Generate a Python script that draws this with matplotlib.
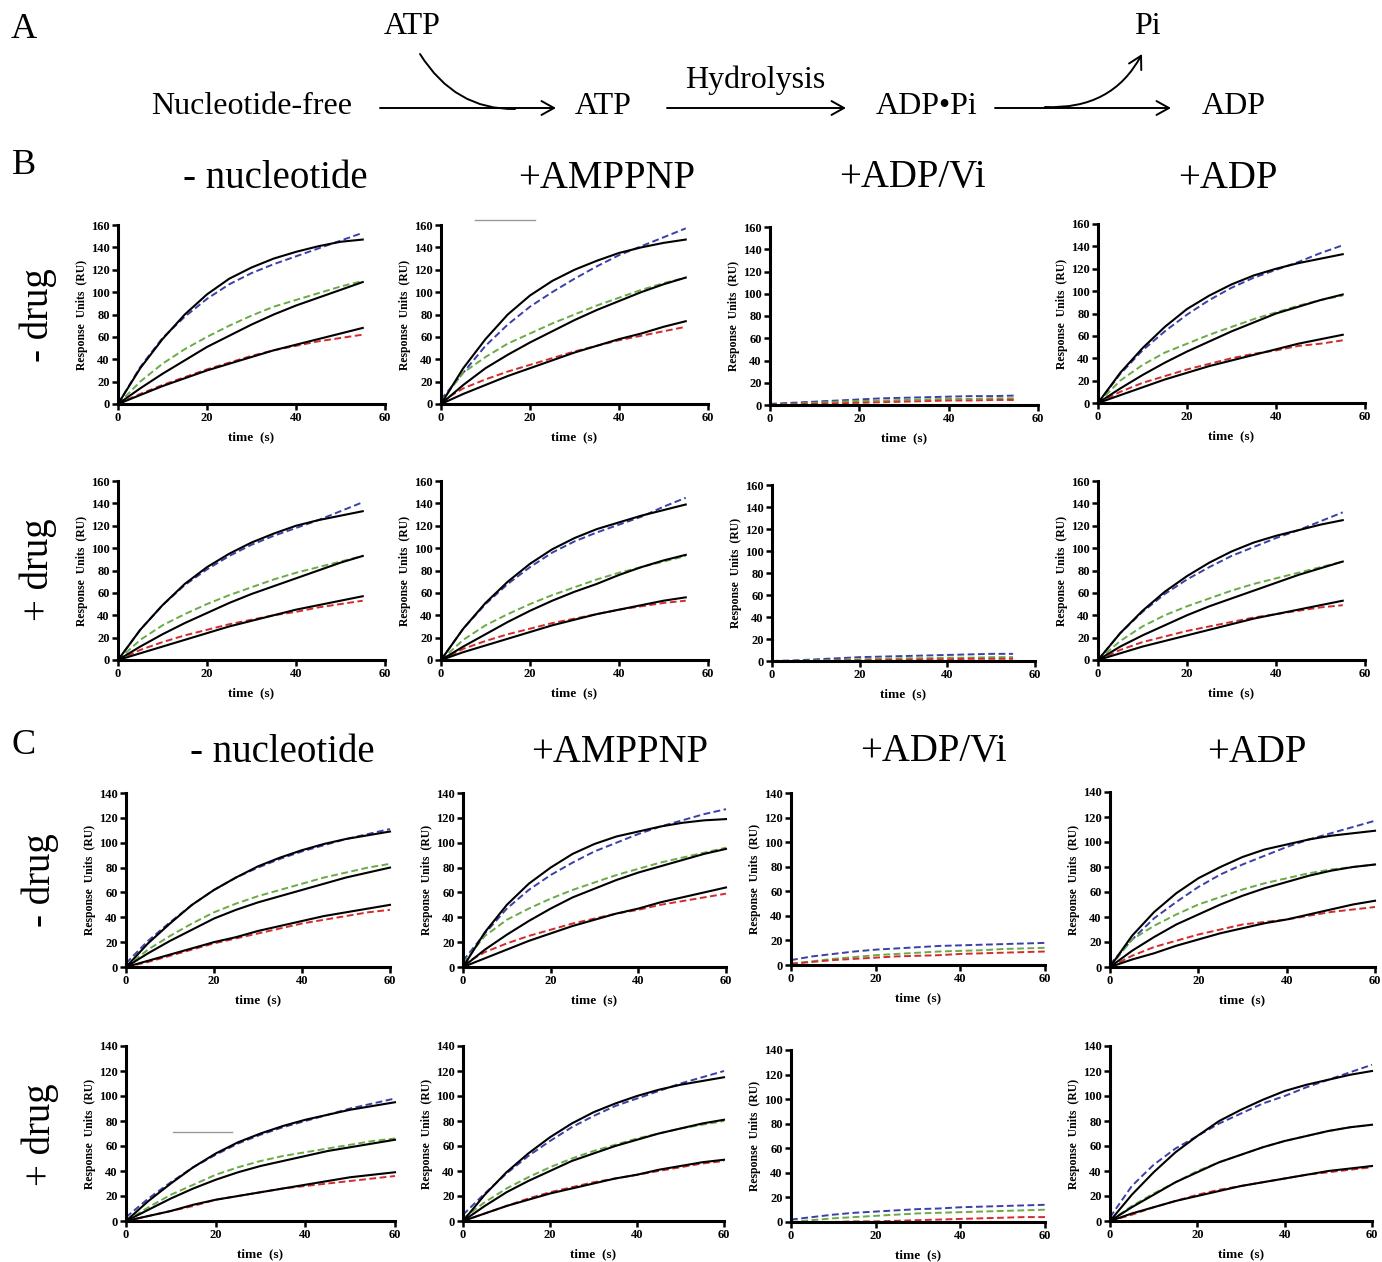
import numpy as np
import matplotlib.pyplot as plt
from matplotlib.path import Path
from matplotlib.patches import FancyArrowPatch

plt.rcParams['font.family'] = ['Liberation Serif', 'DejaVu Serif']

W, H = 1382, 1262

# time points (s)
t_B = [0, 5, 10, 15, 20, 25, 30, 35, 40, 45, 50, 55]
t_C = [0, 5, 10, 15, 20, 25, 30, 35, 40, 45, 50, 55, 60]

# each panel: blue, green, red (data, dashed) then fits high, mid, low (black)
# section B
B_m_free = [[0, 33, 59, 78, 94, 107, 117, 125, 132, 139, 146, 153],
            [0, 20, 36, 49, 60, 70, 79, 87, 93, 99, 105, 110],
            [0, 9, 17, 24, 31, 37, 43, 48, 52, 56, 59, 62],
            [0, 32, 58, 80, 98, 112, 122, 130, 136, 141, 145, 147],
            [0, 14, 27, 39, 51, 61, 71, 80, 88, 95, 102, 109],
            [0, 8, 16, 23, 30, 36, 42, 48, 53, 58, 63, 68]]
B_m_amppnp = [[4, 28, 52, 71, 87, 100, 112, 123, 133, 141, 149, 157],
              [2, 28, 42, 54, 63, 72, 80, 88, 95, 102, 108, 113],
              [2, 14, 22, 29, 35, 41, 47, 52, 57, 61, 65, 69],
              [0, 32, 58, 80, 97, 110, 120, 128, 135, 140, 144, 147],
              [0, 17, 32, 44, 55, 65, 75, 84, 92, 100, 107, 113],
              [0, 9, 17, 25, 32, 39, 46, 52, 58, 63, 69, 74]]
B_m_adpvi = [[1, 2, 3, 4, 5, 6, 6.5, 7, 7.5, 8, 8, 8.5],
             [0, 1, 2, 3, 3.5, 4, 4.5, 5, 5.5, 5.5, 6, 6],
             [0, 0.5, 1, 1.5, 2, 2.5, 3, 3.5, 4, 4, 4.5, 4.5]]
B_m_adp = [[0, 26, 47, 64, 79, 92, 103, 112, 119, 126, 134, 141],
           [0, 20, 34, 45, 53, 61, 68, 75, 81, 87, 92, 96],
           [0, 10, 18, 24, 30, 35, 40, 44, 47, 51, 53, 56],
           [0, 27, 49, 68, 84, 96, 106, 114, 120, 125, 129, 133],
           [0, 13, 25, 36, 46, 55, 64, 72, 80, 86, 92, 97],
           [0, 7, 14, 21, 27, 33, 38, 43, 48, 53, 57, 61]]
B_p_free = [[0, 27, 49, 67, 81, 93, 103, 111, 118, 125, 133, 141],
            [0, 18, 31, 41, 50, 58, 65, 72, 78, 83, 88, 93],
            [0, 9, 16, 22, 27, 32, 36, 40, 43, 47, 50, 53],
            [0, 27, 49, 68, 83, 95, 105, 113, 120, 125, 129, 133],
            [0, 12, 23, 33, 42, 51, 59, 66, 73, 80, 87, 93],
            [0, 6, 12, 18, 24, 30, 35, 40, 45, 49, 53, 57]]
B_p_amppnp = [[0, 28, 50, 68, 83, 96, 106, 114, 121, 128, 137, 145],
              [0, 18, 31, 41, 50, 58, 65, 72, 78, 83, 88, 93],
              [0, 10, 17, 23, 28, 33, 37, 41, 45, 48, 51, 53],
              [0, 28, 51, 70, 86, 99, 109, 117, 123, 129, 134, 139],
              [0, 12, 23, 34, 44, 53, 61, 68, 76, 83, 89, 94],
              [0, 7, 13, 19, 25, 31, 36, 41, 45, 49, 53, 56]]
B_p_adpvi = [[0, 0.5, 1.5, 2.5, 3.5, 4, 4.5, 5, 5.5, 6, 6.5, 6.5],
             [0, 0, 0.5, 1, 1.5, 2, 2.5, 2.5, 3, 3, 3.5, 3.5],
             [0, 0, 0, 0.5, 0.5, 1, 1, 1.5, 1.5, 2, 2, 2]]
B_p_adp = [[0, 24, 43, 59, 72, 83, 93, 101, 109, 116, 124, 132],
           [0, 17, 30, 40, 48, 55, 62, 68, 73, 78, 83, 88],
           [0, 9, 16, 21, 26, 30, 34, 38, 41, 44, 47, 49],
           [0, 24, 44, 61, 75, 87, 97, 105, 111, 116, 121, 125],
           [0, 12, 22, 31, 40, 48, 55, 62, 69, 76, 82, 88],
           [0, 6, 12, 17, 22, 27, 32, 37, 41, 45, 49, 53]]

# section C
C_m_free = [[3, 21, 36, 50, 62, 72, 80, 87, 93, 98, 103, 107, 111],
            [0, 14, 25, 35, 44, 51, 57, 62, 67, 72, 76, 80, 83],
            [0, 4, 9, 14, 19, 23, 27, 31, 35, 38, 41, 44, 46],
            [0, 19, 35, 50, 62, 72, 81, 88, 94, 99, 103, 106, 109],
            [0, 11, 21, 30, 39, 46, 52, 57, 62, 67, 72, 76, 80],
            [0, 5, 10, 15, 20, 24, 29, 33, 37, 41, 44, 47, 50]]
C_m_amppnp = [[5, 27, 47, 62, 74, 84, 93, 100, 107, 113, 118, 123, 127],
              [3, 25, 38, 47, 55, 62, 68, 74, 79, 84, 88, 92, 96],
              [2, 12, 19, 25, 30, 35, 39, 43, 46, 50, 53, 56, 59],
              [0, 28, 50, 67, 80, 91, 99, 105, 109, 113, 116, 118, 119],
              [0, 14, 26, 37, 47, 56, 63, 70, 76, 81, 86, 91, 95],
              [0, 7, 14, 21, 27, 33, 38, 43, 47, 52, 56, 60, 64]]
C_m_adpvi = [[4, 7, 9, 11, 12.5, 13.5, 14.5, 15.5, 16, 16.5, 17, 17.5, 18],
             [1, 3, 5, 6.5, 8, 9, 10, 11, 11.5, 12, 13, 13.5, 14],
             [1, 2.5, 4, 5, 6, 7, 7.5, 8, 9, 9.5, 10, 10.5, 11]]
C_m_adp = [[2, 22, 39, 52, 64, 74, 82, 89, 96, 102, 107, 112, 117],
           [0, 22, 33, 42, 50, 56, 62, 67, 71, 75, 78, 80, 82],
           [0, 9, 16, 21, 26, 30, 34, 36, 38, 41, 44, 46, 48],
           [0, 25, 44, 59, 71, 80, 88, 94, 98, 102, 105, 107, 109],
           [0, 13, 24, 34, 42, 50, 57, 63, 68, 73, 77, 80, 82],
           [0, 6, 11, 17, 22, 27, 31, 35, 38, 42, 46, 50, 53]]
C_p_free = [[3, 18, 31, 43, 53, 62, 69, 75, 80, 85, 90, 94, 98],
            [0, 11, 21, 29, 37, 43, 48, 52, 55, 58, 61, 64, 66],
            [0, 4, 8, 12, 17, 20, 23, 26, 28, 30, 32, 34, 36],
            [0, 16, 30, 43, 54, 63, 70, 76, 81, 85, 89, 92, 95],
            [0, 9, 18, 26, 33, 39, 44, 48, 52, 56, 59, 62, 65],
            [0, 4, 8, 13, 17, 20, 23, 26, 29, 32, 35, 37, 39]]
C_p_amppnp = [[5, 22, 38, 52, 64, 75, 84, 92, 98, 104, 110, 115, 120],
              [2, 15, 26, 35, 43, 50, 56, 61, 66, 70, 74, 77, 80],
              [0, 6, 12, 18, 23, 27, 31, 34, 37, 40, 43, 46, 48],
              [0, 21, 39, 54, 67, 78, 87, 94, 100, 105, 109, 112, 115],
              [0, 12, 23, 32, 40, 48, 54, 60, 65, 70, 74, 78, 81],
              [0, 6, 12, 17, 22, 26, 30, 34, 37, 41, 44, 47, 49]]
C_p_adpvi = [[2, 4, 6, 7.5, 8.5, 9.5, 10.5, 11, 12, 12.5, 13, 13.5, 14],
             [0, 1.5, 3, 4, 5, 6, 7, 7.5, 8, 8.5, 9, 9.5, 10],
             [0, 0, 0, 0.5, 0.5, 1, 1.5, 2, 2.5, 3, 3.5, 4, 4]]
C_p_adp = [[3, 28, 45, 58, 68, 78, 86, 94, 100, 107, 113, 119, 125],
           [0, 12, 22, 31, 40, 47, 53, 59, 64, 68, 72, 75, 77],
           [0, 5, 11, 16, 21, 25, 28, 31, 34, 37, 39, 41, 43],
           [0, 21, 39, 55, 68, 80, 89, 97, 104, 109, 113, 117, 120],
           [0, 11, 21, 31, 39, 47, 53, 59, 64, 68, 72, 75, 77],
           [0, 6, 11, 16, 20, 24, 28, 31, 34, 37, 40, 42, 44]]

conditions = ['- nucleotide', '+AMPPNP', '+ADP/Vi', '+ADP']
drug_labels = ['- drug', '+ drug']

dash_colors = ['#3b3fa8', '#6aab45', '#d42a2a']

# axes boxes in pixels: x at t=0, x at t=60, y at 0, y at top
boxes_B = [[(118, 385, 404, 225), (441, 708, 404, 225), (770, 1038, 405, 227), (1098, 1365, 403, 224)],
           [(118, 385, 660, 481), (441, 708, 660, 481), (772, 1035, 661, 485), (1098, 1365, 660, 481)]]
boxes_C = [[(126, 390, 967, 793), (463, 726, 967, 793), (791, 1045, 965, 793), (1110, 1375, 967, 792)],
           [(126, 395, 1221, 1046), (463, 724, 1221, 1046), (791, 1045, 1222, 1050), (1110, 1372, 1221, 1046)]]

panels_B = [[B_m_free, B_m_amppnp, B_m_adpvi, B_m_adp],
            [B_p_free, B_p_amppnp, B_p_adpvi, B_p_adp]]
panels_C = [[C_m_free, C_m_amppnp, C_m_adpvi, C_m_adp],
            [C_p_free, C_p_amppnp, C_p_adpvi, C_p_adp]]


def rect(x0, x1, yb, yt):
    return [x0 / W, 1 - yb / H, (x1 - x0) / W, (yb - yt) / H]


def draw_panel(ax, t, series, ymax):
    for i, y in enumerate(series[:3]):
        ax.plot(t, y, color=dash_colors[i], lw=1.4, ls=(0, (3.5, 1.8)), clip_on=False)
    for y in series[3:]:
        ax.plot(t, y, color='black', lw=1.5, clip_on=False)
    ax.set_xlim(0, 60)
    ax.set_ylim(0, ymax)
    ax.set_xticks([0, 20, 40, 60])
    ax.set_yticks(np.arange(0, ymax + 1, 20))
    for s in ['top', 'right']:
        ax.spines[s].set_visible(False)
    for s in ['left', 'bottom']:
        ax.spines[s].set_linewidth(2.2)
    ax.tick_params(width=1.8, length=4, labelsize=9, pad=2)
    for lab in ax.get_xticklabels() + ax.get_yticklabels():
        lab.set_fontweight('bold')
    ax.set_xlabel('time  (s)', fontsize=9.5, fontweight='bold', labelpad=5)
    ax.set_ylabel('Response  Units  (RU)', fontsize=8.5, fontweight='bold', labelpad=2)
    ax.patch.set_alpha(0)


fig = plt.figure(figsize=(W / 100, H / 100), dpi=100)

for r in range(2):
    for c in range(4):
        ax = fig.add_axes(rect(*boxes_B[r][c]))
        draw_panel(ax, t_B, panels_B[r][c], 160)
        ax = fig.add_axes(rect(*boxes_C[r][c]))
        draw_panel(ax, t_C, panels_C[r][c], 140)

# overlay in pixel coordinates for scheme and labels
ov = fig.add_axes([0, 0, 1, 1])
ov.set_xlim(0, W)
ov.set_ylim(H, 0)
ov.axis('off')
ov.patch.set_alpha(0)

for letter, y in [('A', 30), ('B', 165), ('C', 745)]:
    ov.text(24, y, letter, fontsize=26, ha='center', va='center')

# panel A scheme
sfs = 23
ov.text(252, 106, 'Nucleotide-free', fontsize=sfs, ha='center', va='center')
ov.text(412, 26, 'ATP', fontsize=sfs, ha='center', va='center')
ov.text(603, 106, 'ATP', fontsize=sfs, ha='center', va='center')
ov.text(755, 80, 'Hydrolysis', fontsize=sfs, ha='center', va='center')
ov.text(927, 106, 'ADP\u2022Pi', fontsize=sfs, ha='center', va='center')
ov.text(1147, 26, 'Pi', fontsize=sfs, ha='center', va='center')
ov.text(1234, 106, 'ADP', fontsize=sfs, ha='center', va='center')

arrow_kw = dict(arrowstyle='->,head_length=9,head_width=5', color='black', lw=1.4)
for x0, x1 in [(380, 556), (667, 846), (995, 1171)]:
    ov.add_patch(FancyArrowPatch((x0, 108), (x1, 108), shrinkA=0, shrinkB=0, **arrow_kw))
p_in = Path([(420, 54), (455, 110), (515, 109)], [Path.MOVETO, Path.CURVE3, Path.CURVE3])
ov.add_patch(FancyArrowPatch(path=p_in, arrowstyle='-', color='black', lw=1.4))
p_out = Path([(1045, 107), (1112, 110), (1142, 54)], [Path.MOVETO, Path.CURVE3, Path.CURVE3])
ov.add_patch(FancyArrowPatch(path=p_out, **arrow_kw))

# column and row headers
hfs = 28
for cx, label in zip([275, 607, 912, 1228], conditions):
    ov.text(cx, 178, label, fontsize=hfs, ha='center', va='center')
for cx, label in zip([282, 620, 933, 1257], conditions):
    ov.text(cx, 752, label, fontsize=hfs, ha='center', va='center')
for cy, label in zip([315, 570], drug_labels):
    ov.text(38, cy, label, fontsize=hfs, ha='center', va='center', rotation=90)
for cy, label in zip([880, 1135], drug_labels):
    ov.text(40, cy, label, fontsize=hfs, ha='center', va='center', rotation=90)

# faint stray marks present in the original figure
ov.plot([475, 535], [220, 220], color='#999999', lw=1)
ov.plot([173, 232], [1132, 1132], color='#999999', lw=1)

fig.savefig('out.png', dpi=100)
